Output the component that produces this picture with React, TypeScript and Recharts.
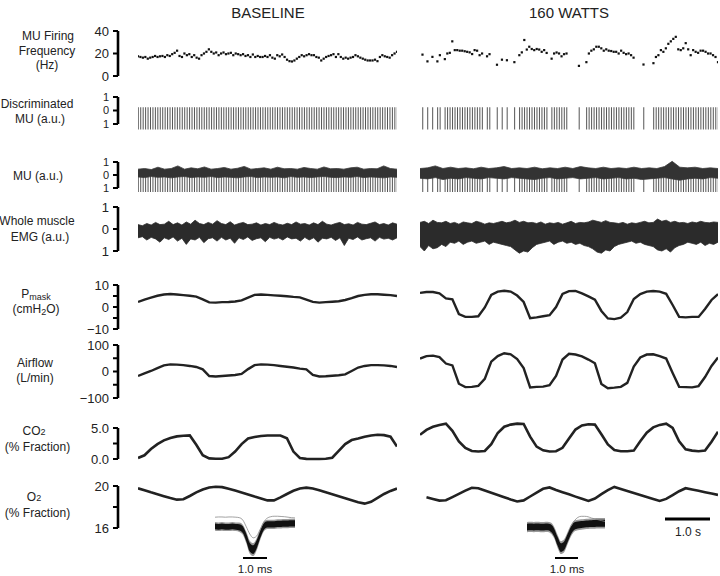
import React from 'react';
import { ComposedChart, Line, Area, Bar, Scatter, XAxis, YAxis } from 'recharts';

// instantaneous firing frequency of the discriminated unit, one value per discharge (Hz)
const baseFreq = [
  17.5, 16.9, 16.3, 16.9, 15.4, 16.3, 16.9, 17.8, 16.9, 17.5,
  17.8, 16.9, 18.5, 17.8, 19.4, 20.6, 22.5, 17.8, 16.9, 20,
  18.5, 19.4, 16.9, 18.5, 16.3, 15.4, 18.5, 20, 21.5, 23.7,
  21.5, 20, 20.9, 18.5, 20, 20.9, 19.4, 20, 20.6, 18.5,
  20, 19.4, 18.5, 19.4, 17.8, 18.5, 16.9, 19.1, 16.9, 17.8,
  16.9, 16.9, 17.8, 16.9, 18.5, 16.3, 15.4, 18.5, 17.5, 19.1,
  16.9, 14.5, 13.2, 12.9, 13.8, 15.4, 16.9, 18.5, 17.5, 18.5,
  19.4, 18.5, 18.5, 16.9, 16.3, 13.8, 15.4, 16.9, 17.8, 18.5,
  19.4, 16.9, 19.4, 16.9, 15.4, 16.3, 15.4, 16.3, 16.9, 18.5,
  17.5, 16.3, 15.4, 14.5, 13.8, 13.8, 13.8, 14.5, 13.2, 16.9,
  18.5, 17.5, 16.9, 16.3, 18.5, 20, 21.5,
];
// 160 W: null = no discharge in that slot (bursts separated by silence)
const wattsFreq = [
  null, 19, null, 13, null, 17, null, 13, 18.5, null,
  15, 20, 20.6, 30.8, 23, 23, 22.5, 22.5, 22, 21.5,
  21, 19.5, 23, 22.5, 18.5, 20, null, 17.5, 19.4, null,
  null, 10, null, 14.5, null, 14, null, null, 12.3, null,
  18.5, 21, 32, 23.5, 26, 24, 23, 24, 23.5, 21.5,
  23, 20.5, null, 15.4, 20, 20.9, 20, 17.5, 19.4, 20,
  null, null, null, null, 9, null, null, 12.3, 20, 22.5,
  23.7, 26, 26, 24.6, 22.5, 23.7, 22.5, 22.2, 21.5, 21.5,
  20, 22.5, 20.6, 19.4, 20, 18.5, 16.3, null, null, null,
  10.2, null, null, null, 11.4, 16.9, 18.5, 23, 21.5, 24.6,
  28.6, 30.8, 33, 34.8, 23.7, 23, 24.6, 29.2, 23.7, 18.5,
  23, 21.5, 20.6, 22.5, 22.5, 21.5, 20, 20, 18.5, 16.9,
  12.3,
];

// spike extent of the discriminated unit and of the unit in the raw record (a.u.)
const unitSpike = [-1.4, 0.25];
const rawSpike = [-1.3, 0.05];

// raw MU record background band (a.u.)
const baseMuHi = [0.45, 0.5, 0.42, 0.6, 0.45, 0.5, 0.7, 0.45, 0.55, 0.48, 0.62, 0.45, 0.5, 0.58, 0.45, 0.52, 0.66, 0.45, 0.5, 0.55, 0.45, 0.6, 0.48, 0.5, 0.45, 0.58, 0.5, 0.45, 0.62, 0.48, 0.5, 0.45, 0.55, 0.6, 0.45, 0.5, 0.48, 0.7, 0.5, 0.45];
const baseMuLo = [-0.15, -0.2, -0.12, -0.18, -0.15, -0.22, -0.15, -0.12, -0.2, -0.15, -0.18, -0.12, -0.2, -0.15, -0.18, -0.22, -0.15, -0.12, -0.2, -0.15, -0.18, -0.15, -0.22, -0.12, -0.18, -0.15, -0.2, -0.15, -0.12, -0.18, -0.2, -0.15, -0.18, -0.12, -0.2, -0.15, -0.18, -0.22, -0.15, -0.18];
const wattsMuHi = [0.5, 0.55, 0.7, 0.5, 0.6, 0.5, 0.55, 0.48, 0.6, 0.5, 0.55, 0.65, 0.5, 0.55, 0.5, 0.6, 0.48, 0.55, 0.5, 0.6, 0.5, 0.65, 0.55, 0.5, 0.6, 0.5, 0.55, 0.5, 0.6, 0.5, 0.55, 0.5, 0.65, 1.05, 0.6, 0.55, 0.6, 0.5, 0.55, 0.5];
const wattsMuLo = [-0.25, -0.3, -0.2, -0.35, -0.25, -0.3, -0.2, -0.25, -0.3, -0.2, -0.25, -0.3, -0.2, -0.25, -0.3, -0.35, -0.25, -0.2, -0.3, -0.25, -0.2, -0.3, -0.25, -0.2, -0.3, -0.25, -0.2, -0.3, -0.25, -0.35, -0.3, -0.25, -0.2, -0.3, -0.4, -0.3, -0.25, -0.3, -0.2, -0.25];

// whole muscle EMG envelope (a.u.)
const baseEmgHi = [
  0.2, 0.15, 0.25, 0.18, 0.3, 0.2, 0.22, 0.35, 0.2, 0.28,
  0.18, 0.32, 0.22, 0.4, 0.25, 0.2, 0.3, 0.22, 0.38, 0.25,
  0.2, 0.33, 0.18, 0.25, 0.3, 0.2, 0.22, 0.28, 0.18, 0.25,
  0.2, 0.3, 0.22, 0.18, 0.26, 0.2, 0.32, 0.22, 0.25, 0.18,
  0.28, 0.2, 0.35, 0.22, 0.18, 0.25, 0.3, 0.2, 0.24, 0.18,
  0.3, 0.22, 0.2, 0.26, 0.32, 0.2, 0.25, 0.18, 0.28, 0.22,
];
const baseEmgLo = [
  -0.4, -0.35, -0.5, -0.38, -0.45, -0.6, -0.4, -0.48, -0.36, -0.55,
  -0.42, -0.7, -0.45, -0.5, -0.38, -0.62, -0.44, -0.4, -0.55, -0.38,
  -0.5, -0.42, -0.65, -0.4, -0.48, -0.36, -0.52, -0.44, -0.4, -0.58,
  -0.38, -0.46, -0.4, -0.5, -0.36, -0.45, -0.42, -0.55, -0.38, -0.5,
  -0.4, -0.6, -0.42, -0.45, -0.38, -0.52, -0.4, -0.75, -0.42, -0.48,
  -0.36, -0.5, -0.44, -0.4, -0.55, -0.38, -0.46, -0.42, -0.5, -0.4,
];
const wattsEmgHi = [
  0.3, 0.35, 0.25, 0.4, 0.3, 0.28, 0.35, 0.25, 0.3, 0.22,
  0.32, 0.28, 0.25, 0.35, 0.3, 0.22, 0.28, 0.25, 0.3, 0.35,
  0.28, 0.32, 0.4, 0.3, 0.35, 0.28, 0.3, 0.25, 0.32, 0.22,
  0.28, 0.25, 0.3, 0.22, 0.28, 0.35, 0.25, 0.3, 0.28, 0.32,
  0.4, 0.35, 0.3, 0.38, 0.3, 0.28, 0.25, 0.3, 0.22, 0.28,
  0.25, 0.3, 0.35, 0.28, 0.3, 0.45, 0.35, 0.4, 0.3, 0.35,
  0.28, 0.3, 0.25, 0.32, 0.28, 0.35, 0.3, 0.28, 0.32, 0.3,
];
const wattsEmgLo = [
  -0.8, -1.0, -0.75, -0.9, -0.85, -0.7, -0.8, -0.6, -0.65, -0.55,
  -0.7, -0.6, -0.55, -0.65, -0.6, -0.55, -0.7, -0.6, -0.65, -0.7,
  -0.75, -0.8, -0.95, -1.1, -1.0, -1.05, -0.85, -0.7, -0.65, -0.6,
  -0.55, -0.7, -0.6, -0.55, -0.65, -0.6, -0.7, -0.65, -0.75, -0.8,
  -0.9, -1.05, -1.1, -0.95, -1.0, -0.8, -0.7, -0.65, -0.6, -0.55,
  -0.65, -0.6, -0.7, -0.75, -0.8, -0.95, -1.0, -0.9, -1.05, -0.85,
  -0.75, -0.7, -0.6, -0.65, -0.7, -0.6, -0.75, -0.65, -0.7, -0.6,
];

// mask pressure (cmH2O)
const basePmask = [2.3, 3.4, 4.3, 5.1, 5.7, 5.9, 5.7, 5.4, 5.1, 4.7, 3.5, 2.1, 2.0, 2.2, 2.3, 2.5, 3.0, 4.3, 5.5, 5.7, 5.5, 5.3, 5.1, 4.9, 4.6, 4.4, 3.4, 2.3, 2.0, 2.2, 2.4, 2.6, 3.2, 4.0, 5.0, 5.5, 5.8, 5.8, 5.6, 5.4, 5.0];
const wattsPmask = [6.4, 6.8, 6.8, 6.2, 3.9, 3.5, -3.2, -4.5, -4.5, -4.2, -0.2, 5.5, 7.0, 7.4, 7.0, 5.2, 2.3, -5.1, -4.7, -4.2, -3.7, 0, 5.9, 7.2, 7.3, 6.2, 4.8, 3.3, -1.8, -5.2, -5.5, -4.8, -2.3, 3.6, 5.9, 7.0, 7.3, 7.0, 6.0, 0.9, -4.5, -4.7, -4.5, -4.5, -0.9, 3.2, 5.9];

// airflow (L/min)
const baseFlow = [-17, -7.5, 2, 13, 23, 27, 26, 24, 21, 17, 8, -17, -19, -17, -15, -13, -9, 9, 24, 27, 26, 24, 21, 18, 15, 11, 8, -13, -19, -18, -16, -14, -11, 2, 15, 21, 24, 24, 23, 21, 17];
const wattsFlow = [49, 58, 60, 54, 30, 23, -46, -59, -58, -54, -28, 37, 58, 69, 65, 47, 13, -60, -58, -57, -52, -17, 45, 67, 64, 57, 45, 31, -47, -63, -61, -58, -43, 19, 53, 64, 65, 58, 49, -6, -58, -59, -60, -55, -21, 21, 53];

// CO2 (% fraction)
const baseCo2 = [0.16, 0.6, 1.6, 2.4, 3.0, 3.4, 3.65, 3.75, 3.8, 2.3, 0.6, 0.1, 0.05, 0.05, 0.3, 1.2, 2.4, 3.3, 3.55, 3.7, 3.8, 3.8, 3.8, 3.35, 1.2, 0.16, 0.02, 0, 0, 0.05, 0.2, 1.3, 2.4, 3.05, 3.3, 3.6, 3.8, 3.9, 3.85, 3.6, 2.0];
const wattsCo2 = [3.9, 4.7, 5.2, 5.5, 5.7, 4.55, 2.85, 1.8, 1.3, 1.2, 1.3, 2.4, 4.2, 5.2, 5.55, 5.7, 5.65, 3.6, 2.0, 1.4, 1.2, 1.25, 1.8, 3.3, 4.75, 5.4, 5.6, 5.55, 4.0, 2.35, 1.45, 1.25, 1.25, 1.35, 2.85, 4.25, 5.1, 5.5, 5.7, 5.0, 2.85, 1.55, 1.35, 1.25, 1.35, 2.8, 4.4];

// O2 (% fraction)
const baseO2 = [19.78, 19.6, 19.4, 19.22, 19.03, 18.85, 18.7, 18.74, 19.05, 19.39, 19.67, 19.86, 19.93, 19.89, 19.74, 19.57, 19.39, 19.2, 19.0, 18.82, 18.63, 18.63, 18.91, 19.24, 19.55, 19.76, 19.84, 19.76, 19.59, 19.4, 19.22, 19.03, 18.84, 18.65, 18.46, 18.32, 18.49, 18.87, 19.24, 19.53, 19.76];
const wattsO2 = [null, 18.93, 18.77, 18.61, 18.64, 18.94, 19.25, 19.56, 19.83, 19.79, 19.57, 19.36, 19.15, 18.93, 18.72, 18.53, 18.63, 19.0, 19.37, 19.73, 19.86, 19.62, 19.41, 19.21, 18.99, 18.78, 18.58, 18.81, 19.22, 19.6, 19.91, 19.72, 19.53, 19.34, 19.15, 18.96, 18.77, 18.58, 18.77, 19.13, 19.5, 19.79, 19.67, 19.55, 19.41, 19.28, 19.15];

// superimposed unit waveforms (a.u.): mean, spread of the overlay, outlying sweep
const baseTplMean = [0.02, 0, 0.02, 0, 0, 0.02, 0, -0.02, -0.12, -0.45, -0.85, -0.95, -0.72, -0.32, 0, 0.1, 0.1, 0.1, 0.12, 0.12, 0.13, 0.13, 0.14, 0.14];
const baseTplSpread = [0.12, 0.12, 0.12, 0.12, 0.12, 0.12, 0.12, 0.13, 0.14, 0.16, 0.18, 0.18, 0.17, 0.15, 0.14, 0.13, 0.13, 0.13, 0.13, 0.13, 0.13, 0.13, 0.13, 0.13];
const baseTplGray = [0.4, 0.41, 0.41, 0.4, 0.41, 0.41, 0.4, 0.38, 0.28, 0, -0.3, -0.46, -0.38, -0.1, 0.2, 0.36, 0.42, 0.44, 0.44, 0.43, 0.42, 0.4, 0.38, 0.37];
const wattsTplMean = [0, 0.01, 0, 0.01, 0, 0, 0.01, -0.04, -0.25, -0.65, -0.95, -0.85, -0.5, -0.15, 0.05, 0.1, 0.12, 0.14, 0.15, 0.16, 0.17, 0.18, 0.18, 0.18];
const wattsTplSpread = [0.16, 0.16, 0.16, 0.16, 0.16, 0.16, 0.16, 0.17, 0.18, 0.2, 0.2, 0.2, 0.19, 0.18, 0.17, 0.16, 0.16, 0.16, 0.16, 0.16, 0.16, 0.16, 0.16, 0.16];
const wattsTplGray = [null, null, null, null, null, null, null, null, null, null, null, null, null, 0.05, 0.3, 0.45, 0.5, 0.5, 0.48, 0.42, 0.38, 0.34, 0.3, 0.26];

const FONT = '"Liberation Sans", Arial, Helvetica, sans-serif';
const INK = '#222';

// page layout of the two columns and of each row's calibration bracket
const BASE = { x0: 138, x1: 397 };
const WATTS = { x0: 420, x1: 718 };
const ROW = {
  freq: { top: 31, bottom: 76, domain: [0, 40], ticks: [0, 20, 40], font: 13 },
  disc: { top: 97, bottom: 124, domain: [-1, 1], ticks: [-1, 0, 1], font: 11 },
  mu: { top: 162, bottom: 188, domain: [-1, 1], ticks: [-1, 0, 1], font: 11 },
  emg: { top: 207, bottom: 251, domain: [-1, 1], ticks: [-1, 0, 1], font: 13 },
  pmask: { top: 285, bottom: 329, domain: [-10, 10], ticks: [-10, -5, 0, 5, 10], font: 13 },
  flow: { top: 345, bottom: 398, domain: [-100, 100], ticks: [-100, -50, 0, 50, 100], font: 13 },
  co2: { top: 428, bottom: 459, domain: [0, 5], ticks: [0, 2.5, 5], font: 13 },
  o2: { top: 486, bottom: 528, domain: [16, 20], ticks: [16, 18, 20], font: 13 },
};
const INSET_BASE = { box: { x0: 215, x1: 295 }, row: { top: 510.2, bottom: 558.2, domain: [-1.3, 0.7] } };
const INSET_WATTS = { box: { x0: 527, x1: 605 }, row: { top: 511.6, bottom: 554.8, domain: [-1.3, 0.7] } };

const minus = (v: number) => (v < 0 ? `\u2212${-v}` : `${v}`);
const FMT: Record<string, (v: number) => string> = {
  freq: (v) => `${v}`,
  disc: (v) => `${Math.abs(v)}`,
  mu: (v) => `${Math.abs(v)}`,
  emg: (v) => `${Math.abs(v)}`,
  pmask: (v) => (v % 10 === 0 ? minus(v) : ''),
  flow: (v) => (v % 100 === 0 ? minus(v) : ''),
  co2: (v) => (v === 2.5 ? '' : v.toFixed(1)),
  o2: (v) => (v === 18 ? '' : `${v}`),
};

const series = (arr: (number | null)[]) => arr.map((v, i) => ({ i, v }));
const band = (hi: number[], lo: number[]) => hi.map((h, i) => ({ i, r: [lo[i], h] }));
const spikes = (freq: (number | null)[]) => freq.map((f, i) => ({ i, f }));
const template = (mean: number[], spread: number[], gray: (number | null)[]) =>
  mean.map((m, i) => ({
    i,
    core: [m - spread[i], m + spread[i]],
    halo: [m - 1.5 * spread[i], m + 1.5 * spread[i]],
    g: gray[i],
  }));

// data area of one panel: the y scale matches the calibration bracket, with room above and below
function Frame({ box, row, n, pad = 16, data, children }: any) {
  const [lo, hi] = row.domain;
  const k = (hi - lo) / (row.bottom - row.top);
  const w = box.x1 - box.x0;
  const h = row.bottom - row.top + 2 * pad;
  return (
    <div style={{ position: 'absolute', left: box.x0, top: row.top - pad, width: w, height: h }}>
      <ComposedChart width={w} height={h} data={data} margin={{ top: 0, right: 0, bottom: 0, left: 0 }}>
        <XAxis type="number" dataKey="i" domain={[0, n - 1]} hide />
        <YAxis type="number" domain={[lo - pad * k, hi + pad * k]} hide />
        {children}
      </ComposedChart>
    </div>
  );
}

// calibration bracket on the left of the baseline column
function Bracket({ name }: { name: keyof typeof ROW }) {
  const row = ROW[name];
  const h = row.bottom - row.top + 20;
  return (
    <div style={{ position: 'absolute', left: 48, top: row.top - 10 }}>
      <ComposedChart width={72} height={h} margin={{ top: 10, right: 0, bottom: 10, left: 0 }}>
        <XAxis type="number" domain={[0, 1]} hide />
        <YAxis
          type="number"
          domain={row.domain}
          ticks={row.ticks}
          allowDataOverflow
          interval={0}
          width={70}
          tickSize={5}
          tickMargin={4}
          tickFormatter={FMT[name]}
          axisLine={{ stroke: '#000', strokeWidth: 2.6 }}
          tickLine={{ stroke: '#000', strokeWidth: 2 }}
          tick={{ fill: INK, fontSize: row.font, fontFamily: FONT }}
        />
      </ComposedChart>
    </div>
  );
}

const dot = (p: any) => <rect x={p.cx - 1.1} y={p.cy - 1.1} width={2.2} height={2.2} fill="#111" />;

function Column({ box, freq, muHi, muLo, emgHi, emgLo, pmask, flow, co2, o2 }: any) {
  const slots = spikes(freq);
  const fired = slots.filter((s) => s.f != null);
  const trace = (w = 2.4) => (
    <Line type="linear" dataKey="v" stroke={INK} strokeWidth={w} dot={false} isAnimationActive={false} />
  );
  return (
    <>
      <Frame box={box} row={ROW.freq} n={freq.length} data={slots}>
        <Scatter data={fired} dataKey="f" shape={dot} isAnimationActive={false} />
      </Frame>
      <Frame box={box} row={ROW.disc} n={freq.length} data={slots}>
        <Bar dataKey={(s: any) => (s.f == null ? null : unitSpike)} barSize={1} fill="#555" isAnimationActive={false} />
      </Frame>
      <Frame box={box} row={ROW.mu} n={freq.length} data={slots}>
        <Bar dataKey={(s: any) => (s.f == null ? null : rawSpike)} barSize={1} fill="#555" isAnimationActive={false} />
      </Frame>
      <Frame box={box} row={ROW.mu} n={muHi.length} data={band(muHi, muLo)}>
        <Area type="linear" dataKey="r" stroke="#3a3a3a" strokeWidth={0.8} fill="#333" fillOpacity={1} isAnimationActive={false} />
      </Frame>
      <Frame box={box} row={ROW.emg} n={emgHi.length} data={band(emgHi, emgLo)}>
        <Area type="linear" dataKey="r" stroke="#2b2b2b" strokeWidth={0.8} fill="#2b2b2b" fillOpacity={1} isAnimationActive={false} />
      </Frame>
      <Frame box={box} row={ROW.pmask} n={pmask.length} data={series(pmask)}>{trace()}</Frame>
      <Frame box={box} row={ROW.flow} n={flow.length} data={series(flow)}>{trace()}</Frame>
      <Frame box={box} row={ROW.co2} n={co2.length} data={series(co2)}>{trace(2.6)}</Frame>
      <Frame box={box} row={ROW.o2} n={o2.length} data={series(o2)}>{trace(2.6)}</Frame>
    </>
  );
}

function Inset({ spec, mean, spread, gray }: any) {
  return (
    <Frame box={spec.box} row={spec.row} n={mean.length} pad={0} data={template(mean, spread, gray)}>
      <Area type="monotone" dataKey="halo" stroke="none" fill="#9a9a9a" fillOpacity={1} isAnimationActive={false} />
      <Area type="monotone" dataKey="core" stroke="none" fill="#111" fillOpacity={1} isAnimationActive={false} />
      <Line type="monotone" dataKey="g" stroke="#8a8a8a" strokeWidth={0.8} dot={false} isAnimationActive={false} />
    </Frame>
  );
}

const label = { fontSize: 12, textAnchor: 'middle' as const, dominantBaseline: 'central' as const };

export default function App() {
  return (
    <div style={{ position: 'absolute', left: 0, top: 0, width: 720, height: 576, background: '#fff' }}>
      {(Object.keys(ROW) as (keyof typeof ROW)[]).map((k) => (
        <Bracket key={k} name={k} />
      ))}
      <Column box={BASE} freq={baseFreq} muHi={baseMuHi} muLo={baseMuLo} emgHi={baseEmgHi} emgLo={baseEmgLo}
        pmask={basePmask} flow={baseFlow} co2={baseCo2} o2={baseO2} />
      <Column box={WATTS} freq={wattsFreq} muHi={wattsMuHi} muLo={wattsMuLo} emgHi={wattsEmgHi} emgLo={wattsEmgLo}
        pmask={wattsPmask} flow={wattsFlow} co2={wattsCo2} o2={wattsO2} />
      <Inset spec={INSET_BASE} mean={baseTplMean} spread={baseTplSpread} gray={baseTplGray} />
      <Inset spec={INSET_WATTS} mean={wattsTplMean} spread={wattsTplSpread} gray={wattsTplGray} />

      <svg width={720} height={576} style={{ position: 'absolute', left: 0, top: 0, pointerEvents: 'none' }}
        fontFamily={FONT} fill={INK}>
        <text x={268} y={12} fontSize={15} textAnchor="middle" dominantBaseline="central">BASELINE</text>
        <text x={569} y={12} fontSize={15} textAnchor="middle" dominantBaseline="central">160 WATTS</text>

        <text x={48} y={36} {...label}>MU Firing</text>
        <text x={47} y={50.5} {...label}>Frequency</text>
        <text x={47} y={64.5} {...label}>(Hz)</text>
        <text x={37} y={104} {...label}>Discriminated</text>
        <text x={40} y={119} {...label}>MU (a.u.)</text>
        <text x={38} y={176} {...label}>MU (a.u.)</text>
        <text x={37} y={221} {...label}>Whole muscle</text>
        <text x={40} y={236.5} {...label}>EMG (a.u.)</text>
        <text x={36} y={294} {...label}>P<tspan fontSize={9} dy={3}>mask</tspan></text>
        <text x={36} y={309} {...label}>(cmH<tspan fontSize={9} dy={3}>2</tspan><tspan dy={-3}>O)</tspan></text>
        <text x={35} y={363} {...label}>Airflow</text>
        <text x={35} y={378} {...label}>(L/min)</text>
        <text x={34} y={431} {...label}>CO<tspan fontSize={9} dy={1}>2</tspan></text>
        <text x={37.5} y={447} {...label}>(% Fraction)</text>
        <text x={34} y={497} {...label}>O<tspan fontSize={9} dy={1}>2</tspan></text>
        <text x={37.5} y={512.5} {...label}>(% Fraction)</text>

        <line x1={665} x2={710} y1={519} y2={519} stroke="#000" strokeWidth={3} />
        <text x={688} y={532} {...label}>1.0 s</text>
        <line x1={243} x2={267} y1={558} y2={558} stroke="#000" strokeWidth={2} />
        <text x={255} y={568.5} {...label} fontSize={11.5}>1.0 ms</text>
        <line x1={555} x2={578} y1={558} y2={558} stroke="#000" strokeWidth={2} />
        <text x={567} y={568.5} {...label} fontSize={11.5}>1.0 ms</text>
      </svg>
    </div>
  );
}
